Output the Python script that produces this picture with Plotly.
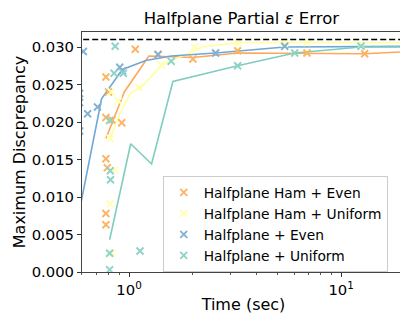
import plotly.graph_objects as go

# ---- data ----
ham_even_sc_t = [0.778, 0.778, 0.80, 0.83, 0.924, 1.07, 0.778, 0.79, 0.778, 0.778, 1.37, 2.0, 3.25, 6.9, 12.9]
ham_even_sc_v = [0.0260, 0.0206, 0.0240, 0.0203, 0.0199, 0.0297, 0.0151, 0.0139, 0.0078, 0.0063, 0.0290, 0.0284, 0.0295, 0.0292, 0.0291]
ham_even_ln_t = [0.778, 0.95, 1.24, 2.0, 3.25, 6.9, 12.9, 25.0]
ham_even_ln_v = [0.0178, 0.0240, 0.0288, 0.0286, 0.0292, 0.0292, 0.0291, 0.0295]

ham_uni_sc_t = [0.823, 0.891, 0.815, 0.857, 0.815, 0.83, 1.114, 1.42, 2.04, 3.25, 5.4, 6.9, 12.4]
ham_uni_sc_v = [0.0240, 0.0228, 0.0178, 0.0136, 0.0091, 0.0025, 0.0246, 0.0276, 0.0300, 0.0305, 0.0305, 0.0306, 0.0302]
ham_uni_ln_t = [0.806, 0.92, 1.018, 1.14, 1.43, 2.21, 3.34, 6.9, 25.0]
ham_uni_ln_v = [0.0176, 0.0215, 0.0239, 0.0246, 0.0276, 0.0300, 0.0306, 0.0306, 0.0306]

hp_even_sc_t = [0.609, 0.638, 0.71, 0.904, 0.93, 1.37, 2.56, 5.42, 0.585, 0.585, 0.585]
hp_even_sc_v = [0.0294, 0.0211, 0.0220, 0.0273, 0.0268, 0.0290, 0.0292, 0.0301, 0.0238, 0.0226, 0.0188]
hp_even_ln_t = [0.55, 0.742, 0.93, 1.2, 1.58, 2.56, 5.42, 25.0]
hp_even_ln_v = [0.0045, 0.0231, 0.0270, 0.0282, 0.0288, 0.0292, 0.0300, 0.0301]

hp_uni_sc_t = [0.86, 0.85, 0.94, 0.81, 0.815, 0.818, 0.81, 0.81, 1.126, 1.58, 3.25, 6.04, 12.4]
hp_uni_sc_v = [0.0301, 0.0265, 0.0265, 0.0202, 0.0135, 0.0123, 0.0025, 0.0003, 0.0028, 0.0281, 0.0275, 0.0292, 0.0301]
hp_uni_ln_t = [0.81, 1.018, 1.277, 1.61, 3.25, 6.04, 12.4, 25.0]
hp_uni_ln_v = [0.0043, 0.0171, 0.0144, 0.0254, 0.0275, 0.0292, 0.0300, 0.0300]

names = ["Halfplane Ham + Even", "Halfplane Ham + Uniform", "Halfplane + Even", "Halfplane + Uniform"]
colors = ["#fdb462", "#ffffb3", "#80b1d3", "#8dd3c7"]
line_colors = ["#fda85a", "#ffff9e", "#6fa8d6", "#7fcdbf"]
eps_line = 0.031

series = [
    (ham_even_sc_t, ham_even_sc_v, ham_even_ln_t, ham_even_ln_v),
    (ham_uni_sc_t, ham_uni_sc_v, ham_uni_ln_t, ham_uni_ln_v),
    (hp_even_sc_t, hp_even_sc_v, hp_even_ln_t, hp_even_ln_v),
    (hp_uni_sc_t, hp_uni_sc_v, hp_uni_ln_t, hp_uni_ln_v),
]

fig = go.Figure()
for (st, sv, lt, lv), nm, c, lc in zip(series, names, colors, line_colors):
    fig.add_trace(go.Scatter(x=lt, y=lv, mode="lines", line=dict(color=lc, width=1.6),
                             showlegend=False, hoverinfo="skip"))
for (st, sv, lt, lv), nm, c, lc in zip(series, names, colors, line_colors):
    fig.add_trace(go.Scatter(x=st, y=sv, mode="markers", name=nm,
                             marker=dict(symbol="x-thin", size=7, color=c,
                                         line=dict(color=c, width=1.8))))

fig.add_trace(go.Scatter(x=[0.5, 25], y=[eps_line, eps_line], mode="lines",
                         line=dict(color="black", width=1.4, dash="6px,3px"),
                         showlegend=False, hoverinfo="skip"))

fig.update_layout(
    width=408, height=313,
    margin=dict(l=69, r=10, t=24, b=44),
    paper_bgcolor="white", plot_bgcolor="white",
    font=dict(family="DejaVu Sans", size=13.7, color="black"),
    title=dict(text="Halfplane Partial <i>ε</i> Error", x=0.572, xanchor="center",
               y=0.968, yanchor="middle", font=dict(size=16.5)),
    legend=dict(x=0.25, y=0.40, xanchor="left", yanchor="top",
                bgcolor="rgba(255,255,255,0.85)", bordercolor="#cccccc", borderwidth=1,
                font=dict(size=13.8), itemwidth=30, tracegroupgap=0),
    showlegend=True,
)
fig.update_xaxes(type="log", range=[-0.2218, 1.3010],
                 tickvals=[1, 10], ticktext=["10<sup>0</sup>", "10<sup>1</sup>"],
                 ticks="outside", ticklen=4, tickcolor="#333",
                 minor=dict(ticks="outside", ticklen=2, tickcolor="#555",
                            tickvals=[0.6, 0.7, 0.8, 0.9, 2, 3, 4, 5, 6, 7, 8, 9, 20]),
                 showline=True, linecolor="#444", linewidth=1, mirror=True,
                 showgrid=False, zeroline=False,
                 title=dict(text="Time (sec)", standoff=2), tickfont=dict(size=14.8))
fig.update_yaxes(range=[0, 0.032], tickvals=[0, 0.005, 0.01, 0.015, 0.02, 0.025, 0.03],
                 tickformat=".3f", ticks="outside", ticklen=4, tickcolor="#333",
                 showline=True, linecolor="#444", linewidth=1, mirror=True,
                 showgrid=False, zeroline=False,
                 title=dict(text="Maximum Discprepancy", standoff=2), tickfont=dict(size=14.8))

fig.write_html("out.html")
